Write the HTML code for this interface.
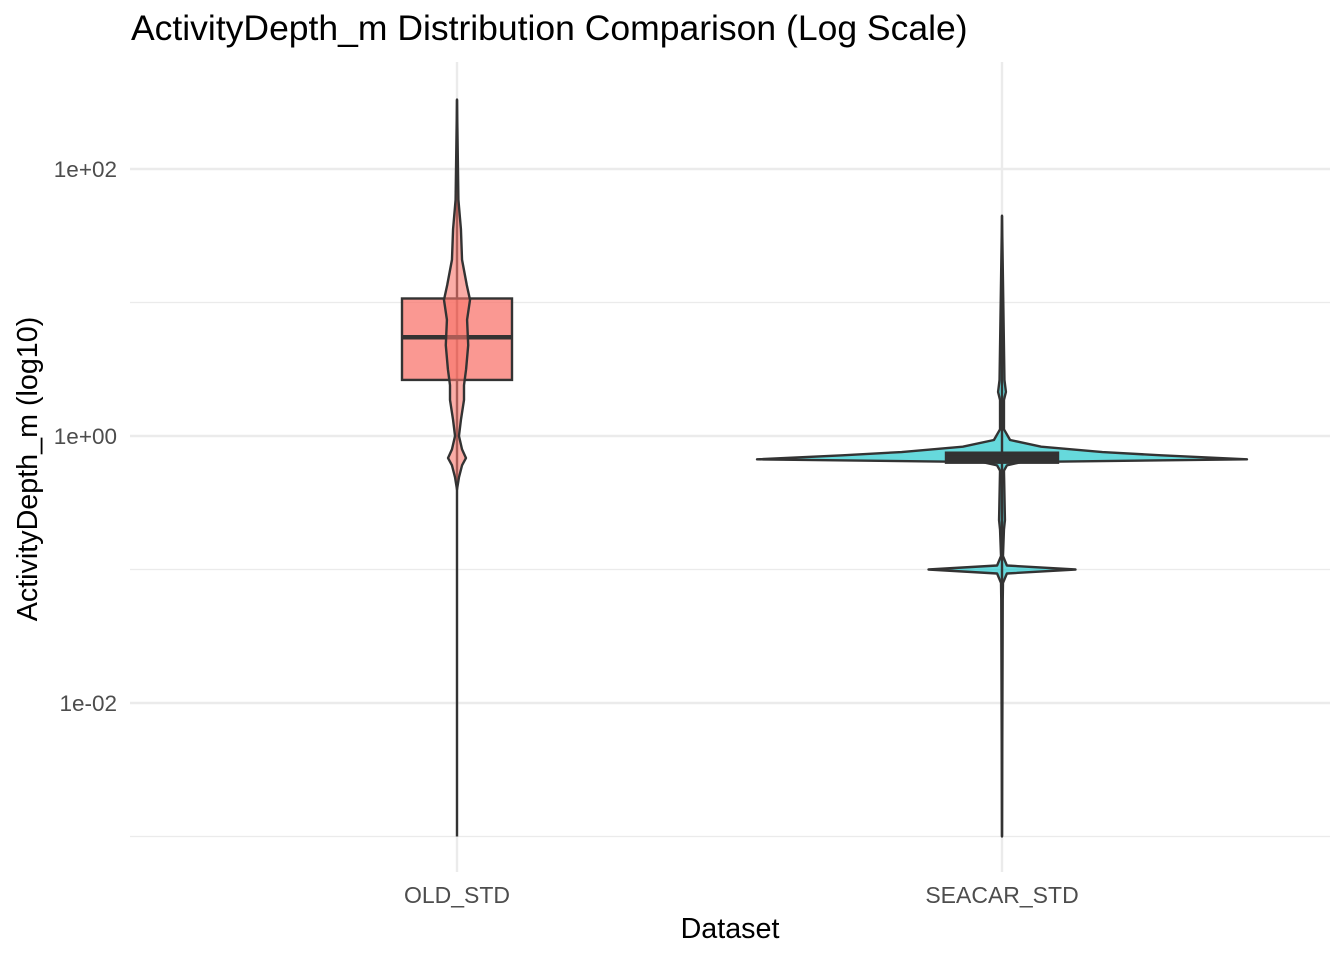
<!DOCTYPE html>
<html><head><meta charset="utf-8"><style>
html,body{margin:0;padding:0;background:#fff;}
svg{display:block;font-family:"Liberation Sans",sans-serif;}
</style></head><body>
<svg id="chart" width="1344" height="960">
<text x="131" y="40" font-size="35.5" fill="#000">ActivityDepth_m Distribution Comparison (Log Scale)</text>
<g id="grid"></g>
<g id="marks"></g>
<g id="axes"></g>
<text x="730" y="938" font-size="28.7" text-anchor="middle" fill="#000">Dataset</text>
<text transform="translate(37,469) rotate(-90)" font-size="28.7" text-anchor="middle" fill="#000">ActivityDepth_m (log10)</text>
</svg>
<script>
const categories = ["OLD_STD","SEACAR_STD"];
const colors = ["#F8766D","#00BFC4"];
const yTicks = [2, 0, -2];
const yTickLabels = ["1e+02","1e+00","1e-02"];
const yMinor = [1, -1, -3];
// box stats in log10 units: [whiskerLow, q1, median, q3, whiskerHigh]
const boxOld = [-3.0, 0.42, 0.74, 1.03, 2.52];
const boxSeacar = [-3.0, -0.2, -0.165, -0.125, 1.65];
// violin profile: log10 values and relative density (0-1)
const vOldLog = [2.52,1.77,1.55,1.32,1.13,1.02,0.87,0.68,0.50,0.38,0.27,0.12,0.0,-0.10,-0.165,-0.22,-0.31,-0.40];
const vOldDen = [0.0,0.1,0.28,0.36,0.7,0.93,0.72,0.8,0.65,0.5,0.5,0.28,0.14,0.36,0.64,0.36,0.14,0.0];
const vSeaLog = [1.65,0.42,0.33,0.27,0.05,-0.03,-0.08,-0.12,-0.145,-0.175,-0.195,-0.22,-0.26,-0.63,-0.70,-0.9,-0.97,-1.0,-1.03,-1.1,-1.23,-3.0];
const vSeaDen = [0.0,0.01,0.016,0.008,0.008,0.033,0.16,0.41,0.65,1.0,0.08,0.02,0.008,0.012,0.008,0.004,0.02,0.3,0.02,0.004,0.003,0.0];

const NS="http://www.w3.org/2000/svg";
const xPos = i => 457 + i*545;
const y = v => 436 - v*133.5;
const grid=document.getElementById('grid'), marks=document.getElementById('marks'), axes=document.getElementById('axes');
function mk(tag,attrs,parent){const e=document.createElementNS(NS,tag);for(const k in attrs)e.setAttribute(k,attrs[k]);parent.appendChild(e);return e;}

yMinor.forEach(v=>{
  const l=mk('line',{x1:130,x2:1330,y1:y(v),y2:y(v),stroke:'#ebebeb','stroke-width':1.2},grid);
  
  
});
yTicks.forEach((v,i)=>{
  const l=mk('line',{x1:130,x2:1330,y1:y(v),y2:y(v),stroke:'#ebebeb','stroke-width':2.4},grid);
  
  
  const t=mk('text',{x:117,y:y(v)+8,'font-size':22.5,'text-anchor':'end',fill:'#4d4d4d'},axes);
  t.textContent=yTickLabels[i];
  
  
});
categories.forEach((c,i)=>{
  const l=mk('line',{x1:xPos(i),x2:xPos(i),y1:62,y2:872,stroke:'#ebebeb','stroke-width':2.4},grid);
  
  
  const t=mk('text',{x:xPos(i),y:903,'font-size':23,'text-anchor':'middle',fill:'#4d4d4d'},axes);
  t.textContent=c;
  
  
});

function violin(i,logs,dens,maxW,name){
  const cx=xPos(i);let r=[],l=[];
  logs.forEach((v,k)=>{r.push((cx+dens[k]*maxW)+','+y(v));l.unshift((cx-dens[k]*maxW)+','+y(v));});
  const p=mk('polygon',{points:r.concat(l).join(' '),fill:colors[i],'fill-opacity':0.6,stroke:'#333','stroke-width':2.4,'stroke-linejoin':'round'},marks);
  
  
}
function box(i,b,hw,name,fill,alpha){
  const cx=xPos(i);
  const w=mk('line',{x1:cx,x2:cx,y1:y(b[0]),y2:y(b[4]),stroke:'#333','stroke-width':2.4},marks);
  
  
  const r=mk('rect',{x:cx-hw,y:y(b[3]),width:2*hw,height:y(b[1])-y(b[3]),fill:fill,'fill-opacity':alpha,stroke:'#333','stroke-width':2.4},marks);
  
  
  const m=mk('line',{x1:cx-hw,x2:cx+hw,y1:y(b[2]),y2:y(b[2]),stroke:'#333','stroke-width':4.5},marks);
  
  
}
box(0,boxOld,55,'old-std',colors[0],0.75);
violin(0,vOldLog,vOldDen,14,'old-std-violin');
violin(1,vSeaLog,vSeaDen,245,'seacar-std-violin');
box(1,boxSeacar,56,'seacar-std','#333',1);
</script>
</body></html>
